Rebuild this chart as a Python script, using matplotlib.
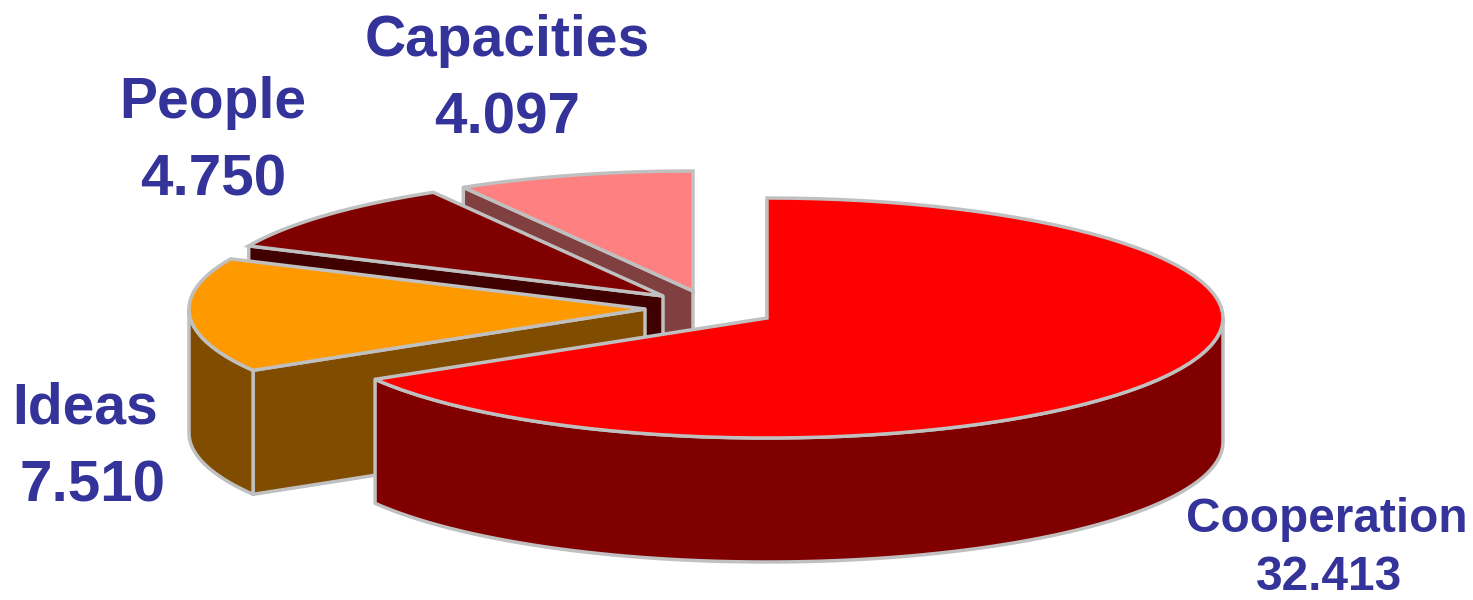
import numpy as np
import matplotlib
matplotlib.use("Agg")
import matplotlib.pyplot as plt

labels = ["Cooperation", "Ideas", "People", "Capacities"]
values = [32.413, 7.510, 4.750, 4.097]
top_colors = ["#FF0000", "#FF9900", "#800000", "#FF8080"]
side_colors = ["#800000", "#804C00", "#400000", "#804040"]

# where each slice was pulled out to (pixels)
apex = [(767, 318), (645, 309), (663, 296), (693, 291)]
label_pos = [(1327, 519, 1329, 577), (85, 409, 93, 486), (213, 103, 213, 180), (507, 41, 507, 118)]
label_size = [34.4, 41, 41, 41]
number_size = [34.4, 42, 42, 42]

RX = 456
RY = 120
DEPTH = 124
EDGE = "#C0C0C0"
TEXT = "#333399"


def ellipse_pts(cx, cy, a0, a1):
    t = np.radians(np.linspace(a0, a1, 80))
    return cx + RX * np.cos(t), cy - RY * np.sin(t)


def draw_slice(ax, i, a0, a1):
    cx, cy = apex[i]
    x0 = cx + RX * np.cos(np.radians(a0))
    y0 = cy - RY * np.sin(np.radians(a0))

    # wall along the start edge
    ax.fill([cx, x0, x0, cx], [cy, y0, y0 + DEPTH, cy + DEPTH],
            facecolor=side_colors[i], edgecolor=EDGE, lw=2.5, joinstyle="round")

    # outer rim, only the front half shows
    r0 = min(a0, 0)
    r1 = max(a1, -180)
    if r0 > r1:
        x, y = ellipse_pts(cx, cy, r0, r1)
        ax.fill(np.r_[x, x[::-1]], np.r_[y, y[::-1] + DEPTH],
                facecolor=side_colors[i], edgecolor=EDGE, lw=2.5, joinstyle="round")

    # top face
    x, y = ellipse_pts(cx, cy, a0, a1)
    ax.fill(np.r_[cx, x], np.r_[cy, y],
            facecolor=top_colors[i], edgecolor=EDGE, lw=2.5, joinstyle="miter")


fig = plt.figure(figsize=(14.73, 6), dpi=100)
ax = fig.add_axes([0, 0, 1, 1])
ax.set_xlim(0, 1473)
ax.set_ylim(600, 0)
ax.axis("off")

# angles clockwise from 12 o'clock
sweep = 360 * np.array(values) / sum(values)
ends = 90 - np.cumsum(sweep)
starts = np.r_[90, ends[:-1]]

# back slices first
for i in [3, 2, 1, 0]:
    draw_slice(ax, i, starts[i], ends[i])

for i in range(len(labels)):
    x1, y1, x2, y2 = label_pos[i]
    ax.text(x1, y1, labels[i], color=TEXT, fontsize=label_size[i], fontweight="bold",
            family="Liberation Sans", ha="center", va="center")
    ax.text(x2, y2, f"{values[i]:.3f}", color=TEXT, fontsize=number_size[i], fontweight="bold",
            family="Liberation Sans", ha="center", va="center")

fig.savefig("out.png", dpi=100)
